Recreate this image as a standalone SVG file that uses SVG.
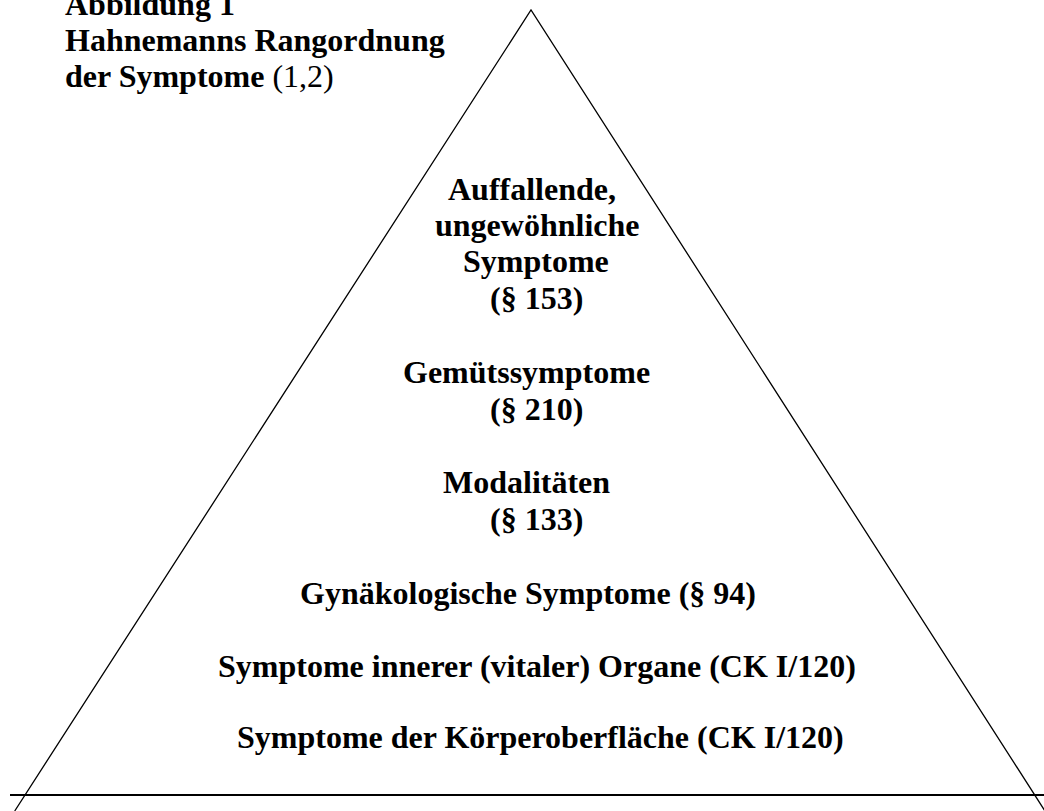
<svg xmlns="http://www.w3.org/2000/svg" width="1044" height="811" viewBox="0 0 1044 811">
<style>
text{font-family:"Liberation Serif","Times New Roman",serif;font-size:32px;fill:#000}
.b{font-weight:bold}
.n{font-weight:normal}
.ln{fill:none;stroke:#000}
</style>
<rect width="1044" height="811" fill="#fff"/>
<g id="title">
<text class="b" x="65" y="15">Abbildung 1</text>
<text class="b" x="65" y="51">Hahnemanns Rangordnung</text>
<text class="b" x="65" y="87">der Symptome<tspan class="n"> (1,2)</tspan></text>
</g>
<g id="connectors">
<polyline class="ln" stroke-width="1.3" points="14.7,811 531,10 1045,811"/>
<line class="ln" stroke-width="2" x1="10" y1="795" x2="1044" y2="795"/>
</g>
<g id="level1">
<text class="b" x="448" y="200">Auffallende,</text>
<text class="b" x="435" y="236">ungewöhnliche</text>
<text class="b" x="463" y="272">Symptome</text>
<text class="b" x="490" y="309">(§ 153)</text>
</g>
<g id="level2">
<text class="b" x="403" y="383">Gemütssymptome</text>
<text class="b" x="490" y="420">(§ 210)</text>
</g>
<g id="level3">
<text class="b" x="443" y="493">Modalitäten</text>
<text class="b" x="490" y="530">(§ 133)</text>
</g>
<g id="level4">
<text class="b" x="300" y="604">Gynäkologische Symptome (§ 94)</text>
</g>
<g id="level5">
<text class="b" x="218" y="677">Symptome innerer (vitaler) Organe (CK I/120)</text>
</g>
<g id="level6">
<text class="b" x="237" y="748">Symptome der Körperoberfläche (CK I/120)</text>
</g>
</svg>
